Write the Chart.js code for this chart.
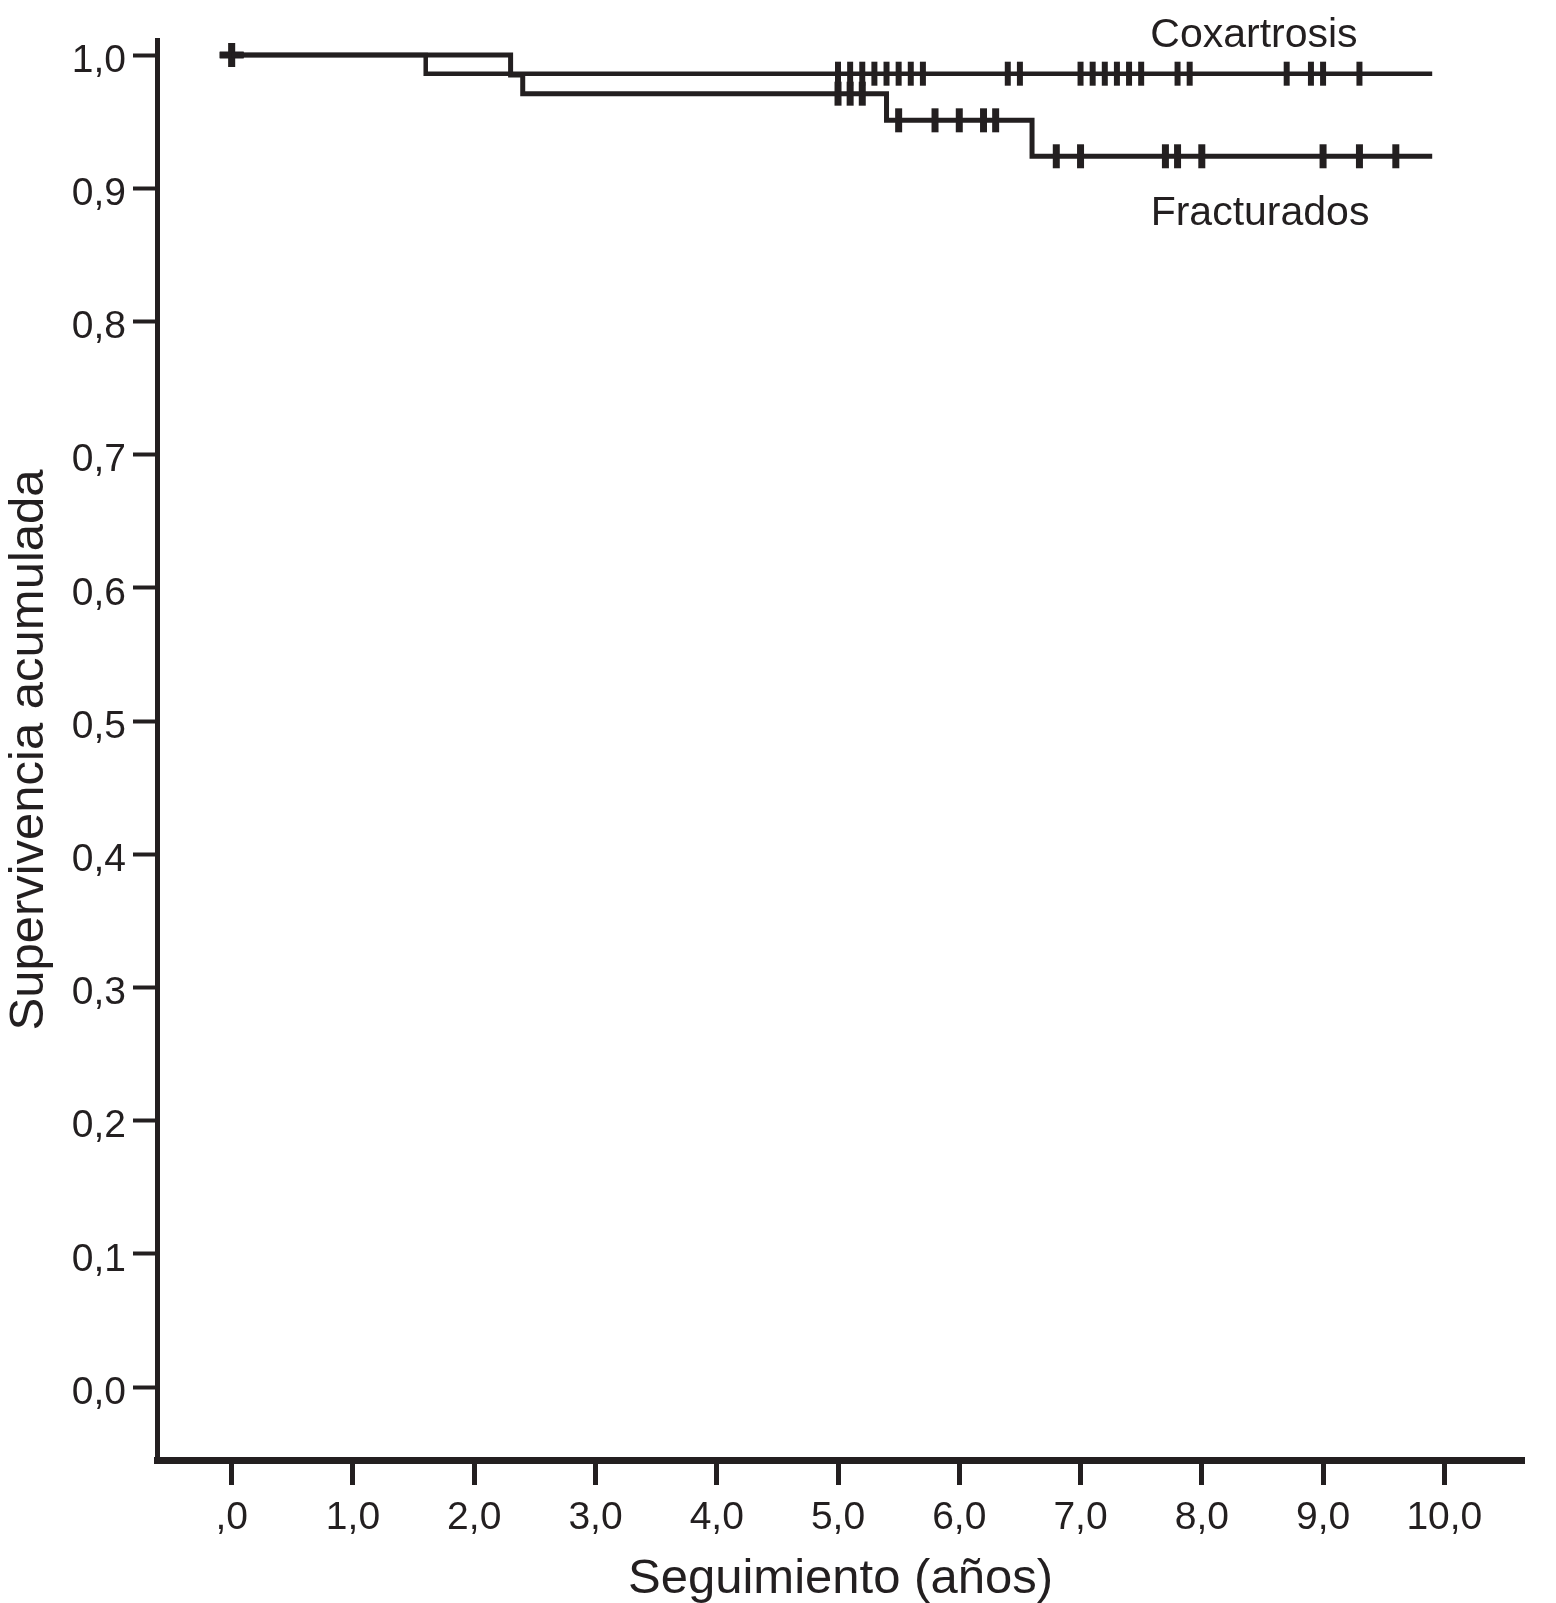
<!DOCTYPE html>
<html>
<head>
<meta charset="utf-8">
<title>Supervivencia acumulada</title>
<script src="https://cdn.jsdelivr.net/npm/chart.js@4.4.1/dist/chart.umd.min.js"></script>
<style>
    html, body { margin: 0; padding: 0; background: #fff; }
    #wrap { width: 1556px; height: 1603px; }
</style>
</head>
<body>
<div id="wrap"><canvas id="km" width="1556" height="1603"></canvas></div>
<script>
// tick values and their labels (SPSS style, decimal comma)
const xTicks = [0, 1, 2, 3, 4, 5, 6, 7, 8, 9, 10];
const xTickLabels = [',0', '1,0', '2,0', '3,0', '4,0', '5,0', '6,0', '7,0', '8,0', '9,0', '10,0'];
const yTicks = [0, 0.1, 0.2, 0.3, 0.4, 0.5, 0.6, 0.7, 0.8, 0.9, 1.0];
const yTickLabels = ['0,0', '0,1', '0,2', '0,3', '0,4', '0,5', '0,6', '0,7', '0,8', '0,9', '1,0'];

// Kaplan-Meier steps: event times (years) and survival after each
const coxTimes = [0, 1.6, 9.9];
const coxSurv  = [1, 0.986, 0.986];
const fracTimes = [0, 2.3, 2.4, 5.4, 6.6, 9.9];
const fracSurv  = [1, 0.985, 0.971, 0.951, 0.924, 0.924];

// censored cases (years)
const coxCensored = [0, 5.0, 5.1, 5.2, 5.3, 5.4, 5.5, 5.6, 5.7, 6.4, 6.5,
    7.0, 7.1, 7.2, 7.3, 7.4, 7.5, 7.8, 7.9, 8.7, 8.9, 9.0, 9.3];
const fracCensored = [0, 5.0, 5.1, 5.2, 5.5, 5.8, 6.0, 6.2, 6.3,
    6.8, 7.0, 7.7, 7.8, 8.0, 9.0, 9.3, 9.6];

const groupNames = ['Coxartrosis', 'Fracturados'];

const INK = '#231f20';
const FONT = '"Liberation Sans", Arial, Helvetica, sans-serif';

// survival level at time t (value of the step curve read above)
function levelAt(times, surv, t) {
    let s = surv[0];
    times.forEach((ti, i) => { if (ti <= t) s = surv[i]; });
    return s;
}

const steps = (times, surv) => times.map((t, i) => ({ x: t, y: surv[i] }));
const marks = (cens, times, surv) => cens.map(t => ({ x: t, y: levelAt(times, surv, t) }));

const curveStyle = (width) => ({
    borderColor: INK,
    borderWidth: width,
    stepped: 'before',
    pointRadius: 0,
    fill: false,
    clip: false,
});
const censorStyle = (width) => ({
    showLine: false,
    borderColor: INK,
    backgroundColor: INK,
    pointBorderWidth: width,
    pointRadius: 12,
    pointStyle: ctx => (ctx.raw && ctx.raw.x === 0 ? 'cross' : 'line'),
    rotation: ctx => (ctx.raw && ctx.raw.x === 0 ? 0 : 90),
    clip: false,
});

// group names written next to the curves
const curveNames = {
    id: 'curveNames',
    afterDatasetsDraw(chart) {
        const { ctx, scales: { x, y } } = chart;
        ctx.save();
        ctx.fillStyle = INK;
        ctx.font = '41px ' + FONT;
        ctx.textAlign = 'center';
        ctx.textBaseline = 'alphabetic';
        ctx.fillText(groupNames[0], x.getPixelForValue(8.43), y.getPixelForValue(1.0062));
        ctx.fillText(groupNames[1], x.getPixelForValue(8.48), y.getPixelForValue(0.8724));
        ctx.restore();
    }
};

new Chart(document.getElementById('km').getContext('2d'), {
    type: 'line',
    data: {
        datasets: [
            { label: groupNames[0], data: steps(coxTimes, coxSurv), ...curveStyle(4.5) },
            { label: groupNames[1], data: steps(fracTimes, fracSurv), ...curveStyle(5) },
            { label: groupNames[0] + ' censurado', data: marks(coxCensored, coxTimes, coxSurv), ...censorStyle(6) },
            { label: groupNames[1] + ' censurado', data: marks(fracCensored, fracTimes, fracSurv), ...censorStyle(7) },
        ]
    },
    options: {
        responsive: false,
        devicePixelRatio: 1,
        animation: false,
        events: [],
        layout: { padding: { left: 0, top: 40, right: 32, bottom: 0 } },
        scales: {
            x: {
                type: 'linear',
                min: -0.616,
                max: 10.657,
                afterBuildTicks: s => { s.ticks = xTicks.map(v => ({ value: v })); },
                afterFit: s => { s.height = 143; },
                border: { display: true, width: 7, color: INK },
                grid: { drawOnChartArea: false, drawTicks: true, tickLength: 25, tickWidth: 5, tickColor: INK },
                ticks: {
                    color: INK,
                    font: { family: FONT, size: 39 },
                    padding: 10,
                    maxRotation: 0,
                    autoSkip: false,
                    callback: (v, i) => xTickLabels[i],
                },
                title: {
                    display: true,
                    text: 'Seguimiento (años)',
                    color: INK,
                    font: { family: FONT, size: 49, lineHeight: 0.9 },
                    padding: { top: 0, bottom: 1 },
                },
            },
            y: {
                type: 'linear',
                min: -0.0548,
                max: 1.0113,
                afterBuildTicks: s => { s.ticks = yTicks.map(v => ({ value: v })); },
                afterFit: s => { s.width = 157; },
                border: { display: true, width: 5, color: INK },
                grid: { drawOnChartArea: false, drawTicks: true, tickLength: 24, tickWidth: 4, tickColor: INK },
                ticks: {
                    color: INK,
                    font: { family: FONT, size: 39 },
                    padding: 7,
                    labelOffset: 6,
                    autoSkip: false,
                    callback: (v, i) => yTickLabels[i],
                },
                title: {
                    display: true,
                    text: 'Supervivencia acumulada',
                    color: INK,
                    font: { family: FONT, size: 49, lineHeight: 1 },
                    padding: { top: 5, bottom: 0 },
                },
            },
        },
        plugins: {
            legend: { display: false },
            tooltip: { enabled: false },
        },
    },
    plugins: [curveNames],
});
</script>
</body>
</html>
